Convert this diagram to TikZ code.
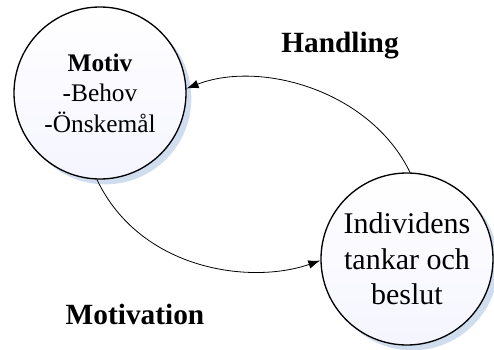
\documentclass[tikz,border=0pt]{standalone}
\usepackage{fontspec}
\setmainfont{Liberation Serif}
\usetikzlibrary{shadows,arrows.meta}

\definecolor{glow}{RGB}{196,212,234}

\begin{document}
\begin{tikzpicture}[x=0.75pt,y=0.75pt,yscale=-1,xscale=1,
  state/.style={circle,draw,line width=1pt,minimum size=129pt,inner sep=0pt,align=center,
    top color=white,bottom color=blue!4,
    drop shadow={fill=glow,opacity=0.8,shadow xshift=4pt,shadow yshift=-4pt}},
  flow/.style={draw,line width=0.6pt,-{Latex[length=9pt,width=6.5pt]}},
  caption/.style={font=\fontsize{22}{26}\selectfont\bfseries}]
\useasboundingbox (0,0) rectangle (494,350);

%Shape: Circle [motiv]
\node [state,font=\fontsize{19}{23}\selectfont] (motiv) at (100,93) {\textbf{Motiv}\\-Behov\\-Önskemål};
%Shape: Circle [individ]
\node [state,font=\fontsize{22.5}{26.5}\selectfont] (individ) at (407,259) {Individens\\tankar och\\beslut};

%Curve Lines [handling]
\draw [flow] (individ.88) .. controls (370,90) and (260,60) .. (motiv.3) ;
%Curve Lines [motivation]
\draw [flow] (motiv.-92) .. controls (140,270) and (250,285) .. (individ.181) ;

% Text Node
\node [caption] (handling) at (340,46) {Handling};
% Text Node
\node [caption] (motivation) at (135,314) {Motivation};

\end{tikzpicture}
\end{document}
